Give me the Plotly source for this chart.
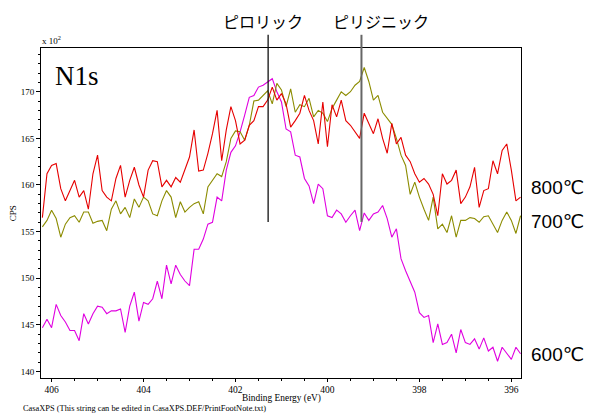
import numpy as np
import plotly.graph_objects as go

# Binding energy grid (eV), evenly spaced acquisition steps
energy_start = 406.2
energy_step = 0.1

cps_800 = [156.5, 161.2, 162.1, 162.3, 159.6, 158.3, 159.4, 160.5, 158.7, 159.4,
           157.4, 161.2, 163.2, 159.4, 158.7, 158.3, 160.7, 162.1, 158.7, 160.5,
           161.9, 160.0, 158.7, 161.6, 162.6, 162.5, 159.8, 160.5, 159.8, 160.8,
           160.3, 161.6, 163.0, 165.9, 161.5, 161.6, 163.4, 165.5, 168.0, 162.6,
           165.9, 168.4, 166.9, 164.4, 164.8, 166.4, 166.9, 168.4, 168.4, 169.1,
           170.5, 169.1, 169.8, 168.7, 166.2, 166.9, 167.7, 169.6, 168.0, 166.9,
           164.4, 168.9, 164.1, 168.6, 167.3, 169.1, 166.9, 166.4, 165.7, 165.0,
           167.7, 166.6, 165.5, 167.1, 165.0, 163.4, 166.6, 164.4, 165.1, 163.2,
           162.5, 161.2, 160.3, 160.7, 160.1, 159.0, 156.7, 161.2, 160.1, 160.5,
           161.6, 158.0, 158.7, 159.8, 161.9, 157.6, 159.4, 159.6, 162.6, 161.2,
           163.7, 164.4, 161.6, 158.3, 158.7]

cps_700 = [155.5, 156.2, 157.3, 156.4, 154.4, 155.8, 156.5, 156.7, 156.0, 157.1,
           157.1, 155.9, 156.1, 156.2, 155.1, 157.4, 158.3, 156.9, 157.6, 156.5,
           158.5, 157.6, 158.7, 158.3, 156.9, 156.7, 158.3, 159.4, 158.7, 156.5,
           158.2, 157.1, 157.6, 158.0, 158.2, 156.9, 159.8, 160.5, 161.2, 160.9,
           162.5, 165.0, 165.8, 165.7, 164.8, 166.4, 169.0, 169.1, 169.6, 170.1,
           168.7, 170.9, 170.2, 168.4, 170.3, 167.8, 168.6, 168.4, 169.3, 167.3,
           168.0, 167.7, 166.8, 168.2, 169.1, 170.0, 169.6, 170.0, 170.7, 171.1,
           172.6, 171.1, 169.1, 169.6, 167.8, 167.1, 166.5, 165.0, 163.2, 162.1,
           159.0, 160.3, 158.7, 157.4, 156.2, 158.7, 155.3, 155.8, 154.9, 156.7,
           154.4, 156.2, 156.2, 156.5, 156.4, 156.0, 156.6, 156.7, 155.8, 154.9,
           156.2, 157.1, 156.2, 154.8, 156.7]

cps_600 = [144.7, 145.6, 144.7, 147.2, 146.0, 145.3, 144.4, 144.4, 143.3, 146.2,
           145.1, 146.2, 147.0, 146.9, 146.2, 146.5, 146.5, 146.7, 144.2, 147.0,
           148.5, 145.4, 147.4, 147.2, 147.8, 149.7, 147.8, 151.4, 149.4, 151.4,
           150.4, 149.7, 149.2, 153.1, 153.1, 154.2, 155.8, 156.0, 158.7, 158.3,
           161.6, 163.5, 164.2, 165.7, 167.5, 169.4, 169.6, 170.5, 170.7, 171.1,
           171.4, 170.0, 168.9, 166.0, 165.7, 163.2, 163.0, 160.7, 159.9, 158.0,
           160.1, 159.6, 156.7, 156.5, 157.3, 156.9, 156.0, 156.7, 157.3, 155.1,
           157.0, 156.2, 156.9, 157.1, 157.8, 156.4, 154.4, 155.3, 152.1, 150.8,
           149.7, 148.5, 146.3, 145.8, 146.0, 143.1, 145.1, 142.9, 143.1, 144.0,
           142.0, 144.5, 143.1, 142.9, 143.5, 142.4, 143.6, 142.2, 142.6, 141.1,
           142.6, 142.0, 141.3, 142.6, 141.9]

series_names = ["600", "700", "800"]
series_colors = ["#e000e0", "#8c8c00", "#e60000"]
series_values = [cps_600, cps_700, cps_800]
label_values = [141.9, 156.1, 159.8]  # where right-side labels sit

peak_names = ["ピロリック", "ピリジニック"]
peak_positions = [401.29, 399.26]
peak_label_x = [0.4625, 0.708]

x_ticks = [406, 404, 402, 400, 398, 396]
y_ticks = [140, 145, 150, 155, 160, 165, 170]

energy = np.round(energy_start - energy_step * np.arange(len(cps_800)), 2)

fig = go.Figure()
for name, col, vals in zip(series_names, series_colors, series_values):
    fig.add_trace(go.Scatter(x=energy, y=vals, mode="lines", name=name + "℃",
                             line=dict(color=col, width=1.1), showlegend=False))

serif = "Liberation Serif, Times New Roman, serif"

fig.update_layout(
    width=590, height=416,
    margin=dict(l=41, r=69, t=48, b=38, autoexpand=False),
    paper_bgcolor="white", plot_bgcolor="white",
    font=dict(family=serif, size=9, color="black"),
)
fig.update_xaxes(
    range=[406.23, 395.79], tickvals=x_ticks, ticks="outside", ticklen=3,
    tickcolor="black", tickwidth=1, showgrid=False, zeroline=False,
    showline=True, linecolor="black", linewidth=1, mirror=True,
    tickfont=dict(family=serif, size=9.5), automargin=False,
    minor=dict(dtick=0.5, ticks="outside", ticklen=2, tickcolor="black"),
)
fig.update_yaxes(
    range=[139.3, 174.69], tickvals=y_ticks, ticks="outside", ticklen=4,
    tickcolor="black", tickwidth=1, showgrid=False, zeroline=False,
    showline=True, linecolor="black", linewidth=1, mirror=True,
    tickfont=dict(family=serif, size=9), automargin=False,
    minor=dict(dtick=1, ticks="outside", ticklen=2, tickcolor="black"),
)

# peak marker lines
line_styles = [dict(color="#111111", width=1.3), dict(color="#666666", width=2)]
for xpos, st, lab, lx in zip(peak_positions, line_styles, peak_names, peak_label_x):
    fig.add_shape(type="line", xref="x", yref="paper", x0=xpos, x1=xpos,
                  y0=0.473, y1=1.04, line=st)
    fig.add_annotation(x=lx, xref="paper", y=1.04, yref="paper", text=lab,
                       showarrow=False, xanchor="center", yanchor="bottom",
                       font=dict(family="Noto Sans CJK JP", size=16, color="black"))

# right-side temperature labels
for name, yv in zip(series_names, label_values):
    fig.add_annotation(x=1.016, xref="paper", y=yv, yref="y",
                       text=name + "<span style='font-family:DejaVu Sans'>℃</span>",
                       showarrow=False, xanchor="left", yanchor="middle",
                       font=dict(family="Liberation Sans, Arial", size=19, color="black"))

fig.add_annotation(x=0.025, xref="paper", y=0.915, yref="paper", text="N1s",
                   showarrow=False, xanchor="left", yanchor="middle",
                   font=dict(family=serif, size=27, color="black"))
fig.add_annotation(x=-0.003, xref="paper", y=1.0, yref="paper", text="x 10<sup>2</sup>",
                   showarrow=False, xanchor="left", yanchor="bottom",
                   font=dict(family=serif, size=9))
fig.add_annotation(x=-0.058, xref="paper", y=0.5, yref="paper", text="CPS",
                   showarrow=False, textangle=-90, xanchor="center", yanchor="middle",
                   font=dict(family=serif, size=9))
fig.add_annotation(x=0.5, xref="paper", y=-0.038, yref="paper", text="Binding Energy (eV)",
                   showarrow=False, xanchor="center", yanchor="top",
                   font=dict(family=serif, size=9.4))
fig.add_annotation(x=-20 / 480, xref="paper", y=-0.074, yref="paper",
                   text="CasaXPS (This string can be edited in CasaXPS.DEF/PrintFootNote.txt)",
                   showarrow=False, xanchor="left", yanchor="top",
                   font=dict(family=serif, size=8.4))

fig.write_html("out.html", config={"displayModeBar": False},
               post_script="document.body.style.margin='0';document.body.style.padding='0';")
